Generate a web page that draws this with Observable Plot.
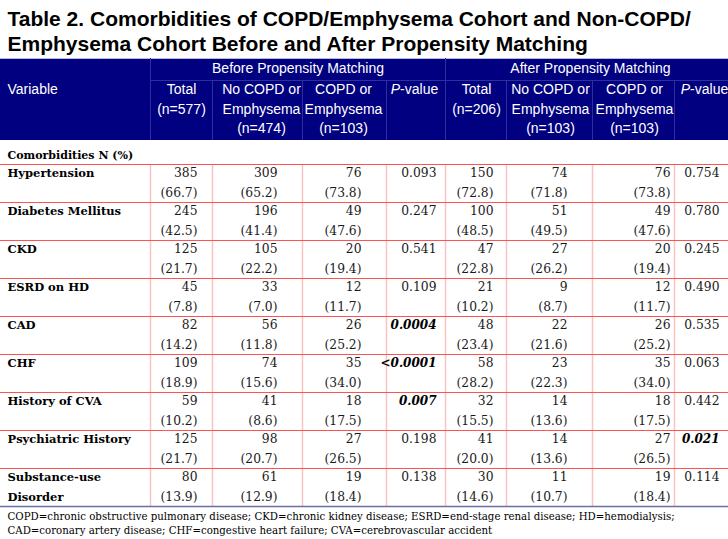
<!DOCTYPE html>
<html>
<head>
<meta charset="utf-8">
<script src="https://cdn.jsdelivr.net/npm/d3@7"></script>
<script src="https://cdn.jsdelivr.net/npm/@observablehq/plot@0.6"></script>
<style>
  html, body { margin: 0; padding: 0; background: #ffffff; }
  #chart svg { display: block; }
</style>
</head>
<body>
<div id="chart"></div>
<script>
// ---------------- DATA ----------------
const titleLines = [
  "Table 2. Comorbidities of COPD/Emphysema Cohort and Non-COPD/",
  "Emphysema Cohort Before and After Propensity Matching"
];
const groupLabels = ["Before Propensity Matching", "After Propensity Matching"];
const columnHeaders = [
  ["Total", "(n=577)"],
  ["No COPD or", "Emphysema", "(n=474)"],
  ["COPD or", "Emphysema", "(n=103)"],
  ["P-value"],
  ["Total", "(n=206)"],
  ["No COPD or", "Emphysema", "(n=103)"],
  ["COPD or", "Emphysema", "(n=103)"],
  ["P-value"]
];
const sectionLabel = "Comorbidities N (%)";
const variables = ["Hypertension", "Diabetes Mellitus", "CKD", "ESRD on HD", "CAD", "CHF",
  "History of CVA", "Psychiatric History", "Substance-use\nDisorder"];

const beforeTotalN   = [385, 245, 125, 45, 82, 109, 59, 125, 80];
const beforeTotalPct = [66.7, 42.5, 21.7, 7.8, 14.2, 18.9, 10.2, 21.7, 13.9];
const beforeNoN      = [309, 196, 105, 33, 56, 74, 41, 98, 61];
const beforeNoPct    = [65.2, 41.4, 22.2, 7.0, 11.8, 15.6, 8.6, 20.7, 12.9];
const beforeCopdN    = [76, 49, 20, 12, 26, 35, 18, 27, 19];
const beforeCopdPct  = [73.8, 47.6, 19.4, 11.7, 25.2, 34.0, 17.5, 26.5, 18.4];
const beforeP        = ["0.093", "0.247", "0.541", "0.109", "0.0004", "<0.0001", "0.007", "0.198", "0.138"];

const afterTotalN    = [150, 100, 47, 21, 48, 58, 32, 41, 30];
const afterTotalPct  = [72.8, 48.5, 22.8, 10.2, 23.4, 28.2, 15.5, 20.0, 14.6];
const afterNoN       = [74, 51, 27, 9, 22, 23, 14, 14, 11];
const afterNoPct     = [71.8, 49.5, 26.2, 8.7, 21.6, 22.3, 13.6, 13.6, 10.7];
const afterCopdN     = [76, 49, 20, 12, 26, 35, 18, 27, 19];
const afterCopdPct   = [73.8, 47.6, 19.4, 11.7, 25.2, 34.0, 17.5, 26.5, 18.4];
const afterP         = ["0.754", "0.780", "0.245", "0.490", "0.535", "0.063", "0.442", "0.021", "0.114"];

const footnotes = [
  "COPD=chronic obstructive pulmonary disease; CKD=chronic kidney disease; ESRD=end-stage renal disease; HD=hemodialysis;",
  "CAD=coronary artery disease; CHF=congestive heart failure; CVA=cerebrovascular accident"
];

// ---------------- LAYOUT (pixels) ----------------
const W = 728, H = 539;
const L = {
  titleY: [18.5, 43.5], textX: 7,
  headTop: 58, headMid: 80, headBottom: 140,
  groupY: 68, headLineY: [89, 109, 128],
  sectionY: 155,
  bodyTop: 164, rowH: 38, line1: 9, line2: 29,
  colEdges: [150, 212, 302, 386, 445, 506, 592, 674],
  fullHeadEdges: [150, 445],
  groupSpan: [[150, 445], [506, 674]],
  headCenter: [181, 261, 343, 414, 476, 550, 634, 704],
  numRight: [197, 277, 361, 436, 493, 567, 670, 719],
  footY: [516, 530]
};
const navy = "#000080", headLine = "#2e2e9c", white = "#ffffff";
const red = "#ff5252", pink = "#fac3c3", ink = "#1a1a1a", bottomBlue = "#6870aa";
const serif = "DejaVu Serif", sans = "Liberation Sans";

// ---------------- BUILD CELLS ----------------
const nRows = variables.length;
const rowTop = i => L.bodyTop + i * L.rowH;
const bodyBottom = rowTop(nRows);

const numCols = [
  {n: beforeTotalN, p: beforeTotalPct, col: 0},
  {n: beforeNoN, p: beforeNoPct, col: 1},
  {n: beforeCopdN, p: beforeCopdPct, col: 2},
  {n: afterTotalN, p: afterTotalPct, col: 4},
  {n: afterNoN, p: afterNoPct, col: 5},
  {n: afterCopdN, p: afterCopdPct, col: 6}
];
const pCols = [{v: beforeP, col: 3}, {v: afterP, col: 7}];

const numCells = [];
numCols.forEach(c => variables.forEach((_, i) => {
  numCells.push({x: L.numRight[c.col], y: rowTop(i) + L.line1, t: String(c.n[i])});
  numCells.push({x: L.numRight[c.col], y: rowTop(i) + L.line2, t: `(${c.p[i].toFixed(1)})`});
}));
const pCells = [];
pCols.forEach(c => c.v.forEach((v, i) => {
  const val = parseFloat(v.replace("<", ""));
  pCells.push({x: L.numRight[c.col], y: rowTop(i) + L.line1, t: v, sig: val < 0.05});
}));
const labelCells = [];
variables.forEach((v, i) => v.split("\n").forEach((line, k) => {
  labelCells.push({x: L.textX, y: rowTop(i) + L.line1 + k * (L.line2 - L.line1), t: line});
}));
const headCells = [];
columnHeaders.forEach((lines, c) => lines.forEach((line, k) => {
  headCells.push({x: L.headCenter[c], y: L.headLineY[k], t: line});
}));
const groupCells = groupLabels.map((g, k) => ({x: (L.groupSpan[k][0] + L.groupSpan[k][1]) / 2, y: L.groupY, t: g}));
const titleCells = titleLines.map((t, k) => ({x: L.textX, y: L.titleY[k], t}));
const footCells = footnotes.map((t, k) => ({x: L.textX, y: L.footY[k], t}));

const hRules = d3.range(0, nRows).map(i => ({y: rowTop(i)}));
const headVRules = L.colEdges.map(x => ({x, y1: L.fullHeadEdges.includes(x) ? L.headTop : L.headMid, y2: L.headBottom}));

// ---------------- PLOT ----------------
const chart = Plot.plot({
  width: W, height: H, margin: 0,
  x: {type: "linear", domain: [0, W], range: [0, W], axis: null},
  y: {type: "linear", domain: [0, H], range: [0, H], axis: null},
  marks: [
    // title
    Plot.text(titleCells, {x: "x", y: "y", text: "t", textAnchor: "start", fontFamily: sans, fontWeight: "bold", fontSize: 21, fill: "#000"}),
    // header band
    Plot.rect([{x1: 0, x2: W, y1: L.headTop, y2: L.headBottom}], {x1: "x1", x2: "x2", y1: "y1", y2: "y2", fill: navy}),
    Plot.ruleY([{y: L.headTop}], {y: "y", x1: 0, x2: W, stroke: "#b8bcd8", strokeWidth: 1}),
    Plot.ruleY([{y: L.headMid}], {y: "y", x1: L.colEdges[0], x2: W, stroke: headLine, strokeWidth: 1}),
    Plot.ruleX(headVRules, {x: "x", y1: "y1", y2: "y2", stroke: headLine, strokeWidth: 1}),
    Plot.text(groupCells, {x: "x", y: "y", text: "t", fontFamily: sans, fontSize: 14, fill: white}),
    Plot.text([{x: L.textX, y: L.headLineY[0], t: "Variable"}], {x: "x", y: "y", text: "t", textAnchor: "start", fontFamily: sans, fontSize: 14, fill: white}),
    Plot.text(headCells, {x: "x", y: "y", text: "t", fontFamily: sans, fontSize: 14, fill: white}),
    // section label
    Plot.text([{x: L.textX, y: L.sectionY, t: sectionLabel}], {x: "x", y: "y", text: "t", textAnchor: "start", fontFamily: serif, fontWeight: "bold", fontSize: 11, fill: "#000"}),
    // grid
    Plot.ruleX(L.colEdges.map(x => ({x})), {x: "x", y1: L.bodyTop, y2: bodyBottom, stroke: pink, strokeWidth: 1.5}),
    Plot.ruleY(hRules, {y: "y", x1: 0, x2: W, stroke: red, strokeWidth: 1}),
    Plot.ruleY([{y: bodyBottom}], {y: "y", x1: 0, x2: W, stroke: bottomBlue, strokeWidth: 1.5}),
    // body
    Plot.text(labelCells, {x: "x", y: "y", text: "t", textAnchor: "start", fontFamily: serif, fontWeight: "bold", fontSize: 11.5, fill: "#000"}),
    Plot.text(numCells, {x: "x", y: "y", text: "t", textAnchor: "end", fontFamily: serif, fontSize: 12.3, fill: ink}),
    Plot.text(pCells.filter(d => !d.sig), {x: "x", y: "y", text: "t", textAnchor: "end", fontFamily: serif, fontSize: 12.3, fill: ink}),
    Plot.text(pCells.filter(d => d.sig), {x: "x", y: "y", text: "t", textAnchor: "end", fontFamily: serif, fontWeight: "bold", fontStyle: "italic", fontSize: 12, fill: "#000"}),
    // footnotes
    Plot.text(footCells, {x: "x", y: "y", text: "t", textAnchor: "start", fontFamily: serif, fontSize: 10.2, fill: "#000"})
  ]
});
document.getElementById("chart").appendChild(chart);

// italic "P" in "P-value" headers
d3.select(chart).selectAll("text").each(function () {
  if (this.childElementCount === 0 && this.textContent === "P-value") {
    const el = d3.select(this);
    el.text(null);
    el.append("tspan").attr("font-style", "italic").text("P");
    el.append("tspan").text("-value");
  }
});
</script>
</body>
</html>
